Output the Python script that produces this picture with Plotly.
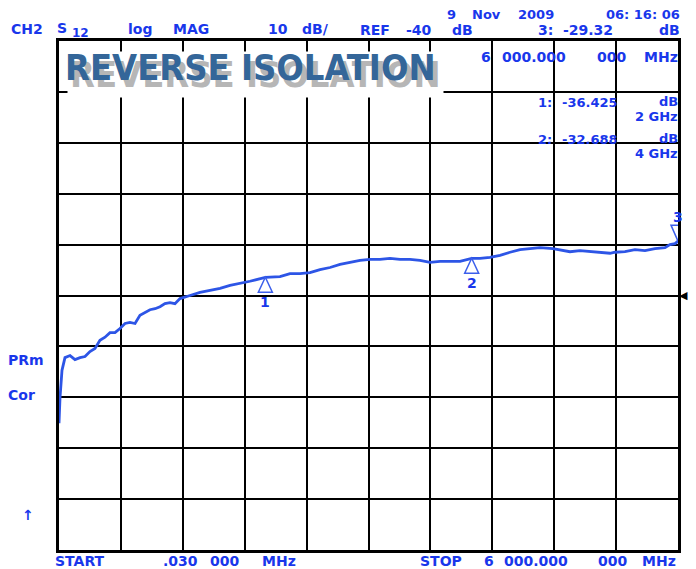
import plotly.graph_objects as go

# ---------------- data ----------------
freq_ghz = [0.00003, 0.01, 0.029, 0.058, 0.107, 0.155, 0.204, 0.252, 0.300, 0.349,
            0.397, 0.446, 0.494, 0.543, 0.591, 0.640, 0.688, 0.737, 0.785, 0.834,
            0.882, 0.931, 0.979, 1.027, 1.076, 1.124, 1.173, 1.270, 1.367, 1.464,
            1.561, 1.658, 1.754, 1.851, 2.0, 2.142, 2.239, 2.336, 2.433, 2.530,
            2.627, 2.724, 2.821, 2.918, 3.015, 3.111, 3.208, 3.305, 3.402, 3.499,
            3.596, 3.693, 3.790, 3.887, 4.0, 4.081, 4.178, 4.275, 4.372, 4.469,
            4.565, 4.662, 4.788, 4.856, 4.953, 5.050, 5.147, 5.244, 5.341, 5.390,
            5.486, 5.583, 5.680, 5.777, 5.874, 5.922, 5.971, 6.0]
s12_db = [-65.1, -60.0, -54.7, -52.2, -51.8, -52.6, -52.2, -52.0, -51.0, -50.4,
          -48.8, -48.2, -47.3, -47.3, -46.5, -45.5, -45.3, -45.5, -43.9, -43.3,
          -42.8, -42.6, -42.2, -41.6, -41.4, -41.6, -40.6, -40.0, -39.4, -39.0,
          -38.6, -38.0, -37.6, -37.2, -36.425, -36.3, -35.7, -35.7, -35.5, -34.9,
          -34.5, -33.9, -33.5, -33.1, -32.9, -32.9, -32.7, -32.9, -32.9, -33.1,
          -33.5, -33.3, -33.3, -33.3, -32.688, -32.7, -32.5, -32.1, -31.5, -31.0,
          -30.8, -30.6, -30.8, -31.0, -31.4, -31.2, -31.4, -31.5, -31.7, -31.5,
          -31.4, -31.0, -31.2, -30.8, -30.6, -30.0, -29.8, -29.32]

marker_freq = [2.0, 4.0, 6.0]
marker_db = [-36.425, -32.688, -29.32]
marker_labels = ["1", "2", "3"]

x_start, x_stop = 0.00003, 6.0
ref_db, db_per_div = -40, 10

# ---------------- figure ----------------
OFF = 8  # page body margin
PAGE_W, PAGE_H = 696, 569
W, H = PAGE_W - OFF, PAGE_H - OFF
L, T = 59 - OFF, 41 - OFF
R, B = 18, 19
PW, PH = W - L - R, H - T - B

def px(x):
    return (x - OFF - L) / PW

def py(y):
    return (H - B - (y - OFF)) / PH

BLUE = "rgb(25,55,235)"
TXT_FONT = dict(family="DejaVu Sans", size=14, color=BLUE, weight="bold")
SMALL_FONT = dict(family="DejaVu Sans", size=13, color=BLUE, weight="bold")

fig = go.Figure()
fig.add_trace(go.Scatter(
    x=freq_ghz, y=s12_db, mode="lines",
    line=dict(color="rgb(45,85,230)", width=2.8),
    hoverinfo="skip", showlegend=False))

annotations = []

def txt(s, x, y, anchor="left", font=None, **kw):
    annotations.append(dict(
        text=s, x=px(x), y=py(y), xref="paper", yref="paper",
        xanchor=anchor, yanchor="middle", showarrow=False,
        font=font or TXT_FONT, **kw))

# header texts
txt("CH2", 9, 29)
txt("S", 55, 28)
txt("12", 70, 33, font=dict(family="DejaVu Sans", size=12, color=BLUE, weight="bold"))
txt("log", 126, 29)
txt("MAG", 171, 29)
txt("10", 266, 29)
txt("dB/", 300, 29)
txt("REF", 358, 30)
txt("-40", 404, 30)
txt("dB", 450, 30)
txt("3:", 536, 30)
txt("-29.32", 561, 30)
txt("dB", 682, 30, anchor="right")
txt("9", 445, 15, font=SMALL_FONT)
txt("Nov", 470, 15, font=SMALL_FONT)
txt("2009", 516, 15, font=SMALL_FONT)
txt("06: 16: 06", 682, 15, anchor="right", font=SMALL_FONT)
txt("6", 479, 57)
txt("000.000", 500, 57)
txt("000", 595, 57)
txt("MHz", 680, 57, anchor="right")
txt("1:", 536, 102, font=SMALL_FONT)
txt("-36.425", 560, 102, font=SMALL_FONT)
txt("dB", 680, 101, anchor="right", font=SMALL_FONT)
txt("2 GHz", 680, 117, anchor="right", font=SMALL_FONT)
txt("2:", 536, 139, font=SMALL_FONT)
txt("-32.688", 560, 139, font=SMALL_FONT)
txt("dB", 680, 138, anchor="right", font=SMALL_FONT)
txt("4 GHz", 680, 154, anchor="right", font=SMALL_FONT)
txt("PRm", 6, 360)
txt("Cor", 6, 395)
txt("\u2191", 20, 515)
txt("START", 53, 561)
txt(".030", 161, 561)
txt("000", 208, 561)
txt("MHz", 260, 561)
txt("STOP", 418, 561)
txt("6", 482, 561)
txt("000.000", 502, 561)
txt("000", 596, 561)
txt("MHz", 678, 561, anchor="right")

# title with shadow
TITLE_FAMILY = "Liberation Sans Narrow, DejaVu Sans Condensed, Liberation Sans"
TSIZE = 36
annotations.append(dict(
    text="REVERSE ISOLATION", x=px(67), y=py(74), xref="paper", yref="paper",
    xanchor="left", yanchor="middle", showarrow=False,
    font=dict(family=TITLE_FAMILY, size=TSIZE, color="rgba(150,150,150,0.7)", weight="bold"),
    bgcolor="white", borderpad=2))
annotations.append(dict(
    text="REVERSE ISOLATION", x=px(63), y=py(67), xref="paper", yref="paper",
    xanchor="left", yanchor="middle", showarrow=False,
    font=dict(family=TITLE_FAMILY, size=TSIZE, color="rgb(52,102,153)", weight="bold")))

# reference level indicator
annotations.append(dict(
    text="\u25c0", x=1.0, y=ref_db, xref="paper", yref="y",
    xanchor="left", yanchor="middle", showarrow=False, xshift=-1,
    font=dict(family="DejaVu Sans", size=11, color="black")))

# marker labels and triangles
shapes = []
for f, d, lab in zip(marker_freq, marker_db, marker_labels):
    down = lab == "3"
    annotations.append(dict(
        text=lab, x=f, y=d, xref="x", yref="y", showarrow=False,
        yshift=24 if down else -25,
        font=dict(family="DejaVu Sans", size=14, color=BLUE, weight="bold")))
    path = "M0,0 L-7,16 L7,16 Z" if down else "M0,0 L-7,-15 L7,-15 Z"
    shapes.append(dict(
        type="path", xref="x", yref="y", xsizemode="pixel", ysizemode="pixel",
        xanchor=f, yanchor=d, path=path,
        line=dict(color="rgb(60,95,235)", width=1.5)))

fig.update_layout(
    width=W, height=H,
    margin=dict(l=L, r=R, t=T, b=B),
    paper_bgcolor="white", plot_bgcolor="white",
    annotations=annotations, shapes=shapes,
    xaxis=dict(range=[x_start, x_stop], tick0=x_start, dtick=(x_stop - x_start) / 10,
               showgrid=True, gridcolor="black", gridwidth=2, zeroline=False,
               showticklabels=False, ticks="", showline=True, mirror=True,
               linecolor="black", linewidth=2.5),
    yaxis=dict(range=[ref_db - 5 * db_per_div, ref_db + 5 * db_per_div],
               tick0=ref_db, dtick=db_per_div,
               showgrid=True, gridcolor="black", gridwidth=2, zeroline=False,
               showticklabels=False, ticks="", showline=True, mirror=True,
               linecolor="black", linewidth=2.5),
    showlegend=False,
)

fig.write_html("out.html")
